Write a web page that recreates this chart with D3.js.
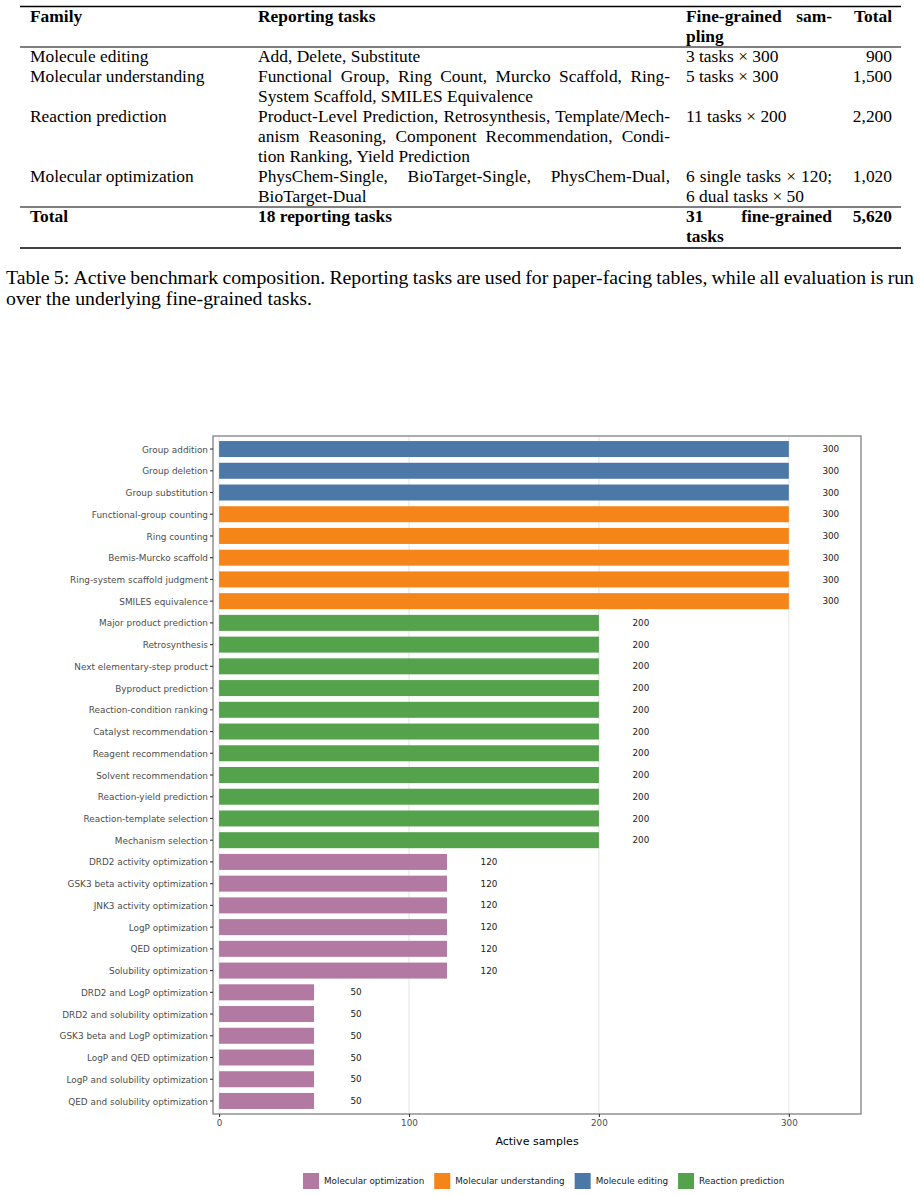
<!DOCTYPE html>
<html>
<head>
<meta charset="utf-8">
<script src="https://cdn.jsdelivr.net/npm/d3@7"></script>
<style>
  body { margin: 0; background: #fff; }
  svg { display: block; }
</style>
</head>
<body>
<svg></svg>
<script>
// ---- table data ----
const tableHeader = ["Family", "Reporting tasks", "Fine-grained sam- pling", "Total"];
const tableFamilies = ["Molecule editing", "Molecular understanding", "Reaction prediction", "Molecular optimization"];
const tableReporting = [
	["Add, Delete, Substitute"],
	["Functional Group, Ring Count, Murcko Scaffold, Ring-", "System Scaffold, SMILES Equivalence"],
	["Product-Level Prediction, Retrosynthesis, Template/Mech-", "anism Reasoning, Component Recommendation, Condi-", "tion Ranking, Yield Prediction"],
	["PhysChem-Single, BioTarget-Single, PhysChem-Dual,", "BioTarget-Dual"]
];
const tableSampling = [
	["3 tasks \u00d7 300"],
	["5 tasks \u00d7 300"],
	["11 tasks \u00d7 200"],
	["6 single tasks \u00d7 120;", "6 dual tasks \u00d7 50"]
];
const tableTotals = ["900", "1,500", "2,200", "1,020"];
const totalRow = ["Total", "18 reporting tasks", ["31 fine-grained", "tasks"], "5,620"];
const captionLines = [
	"Table 5: Active benchmark composition. Reporting tasks are used for paper-facing tables, while all evaluation is run",
	"over the underlying fine-grained tasks."
];

// ---- chart data ----
const tasks = [
	"Group addition", "Group deletion", "Group substitution",
	"Functional-group counting", "Ring counting", "Bemis-Murcko scaffold", "Ring-system scaffold judgment", "SMILES equivalence",
	"Major product prediction", "Retrosynthesis", "Next elementary-step product", "Byproduct prediction", "Reaction-condition ranking",
	"Catalyst recommendation", "Reagent recommendation", "Solvent recommendation", "Reaction-yield prediction", "Reaction-template selection", "Mechanism selection",
	"DRD2 activity optimization", "GSK3 beta activity optimization", "JNK3 activity optimization", "LogP optimization", "QED optimization", "Solubility optimization",
	"DRD2 and LogP optimization", "DRD2 and solubility optimization", "GSK3 beta and LogP optimization", "LogP and QED optimization", "LogP and solubility optimization", "QED and solubility optimization"
];
const samples = [
	300, 300, 300,
	300, 300, 300, 300, 300,
	200, 200, 200, 200, 200, 200, 200, 200, 200, 200, 200,
	120, 120, 120, 120, 120, 120,
	50, 50, 50, 50, 50, 50
];
const families = [
	"Molecule editing", "Molecule editing", "Molecule editing",
	"Molecular understanding", "Molecular understanding", "Molecular understanding", "Molecular understanding", "Molecular understanding",
	"Reaction prediction", "Reaction prediction", "Reaction prediction", "Reaction prediction", "Reaction prediction", "Reaction prediction",
	"Reaction prediction", "Reaction prediction", "Reaction prediction", "Reaction prediction", "Reaction prediction",
	"Molecular optimization", "Molecular optimization", "Molecular optimization", "Molecular optimization", "Molecular optimization", "Molecular optimization",
	"Molecular optimization", "Molecular optimization", "Molecular optimization", "Molecular optimization", "Molecular optimization", "Molecular optimization"
];
const legendNames = ["Molecular optimization", "Molecular understanding", "Molecule editing", "Reaction prediction"];
const legendColors = ["#b279a2", "#f58518", "#4c78a8", "#54a24b"];
const xTicks = [0, 100, 200, 300];

const width = 920;
const height = 1196;
const serif = "'Liberation Serif', 'Times New Roman', serif";
const sans = "'DejaVu Sans', sans-serif";
const tableSize = 17.4;
const captionSize = 19.8;

var svg = d3.select("svg").attr("width", width).attr("height", height);
svg.append("rect").attr("width", width).attr("height", height).style("fill", "white");

// place a line of words so it fills [x0,x1] (latex style justified line)
function justify(g, str, x0, x1, y, size, bold){
	var words = str.split(/\s+/);
	var t = g.append("text").attr("y", y)
	.style("font-family", serif).style("font-size", size + "px")
	.style("font-weight", bold ? "bold" : "normal").style("fill", "black");
	var spans = words.map(w => t.append("tspan").text(w));
	var widths = spans.map(s => s.node().getComputedTextLength());
	var gap = words.length > 1 ? (x1 - x0 - d3.sum(widths)) / (words.length - 1) : 0;
	gap = Math.max(gap, size * 0.2);
	var cx = x0;
	spans.forEach((s, i) => { s.attr("x", cx); cx += widths[i] + gap; });
}

function plain(g, str, x, y, size, bold, anchor){
	g.append("text").attr("x", x).attr("y", y)
	.attr("text-anchor", anchor || "start")
	.style("font-family", serif).style("font-size", size + "px")
	.style("font-weight", bold ? "bold" : "normal").style("fill", "black")
	.text(str);
}

// ---------------- table ----------------
var table = svg.append("g");
const colX = [30, 258, 686, 892];
const repEnd = 670;
const sampEnd = 832;
const pitch = 20;

table.append("line").attr("x1", 20).attr("x2", 901).attr("y1", 6.5).attr("y2", 6.5).style("stroke", "black").style("stroke-width", 1.6);
plain(table, tableHeader[0], colX[0], 22, tableSize, true);
plain(table, tableHeader[1], colX[1], 22, tableSize, true);
justify(table, "Fine-grained sam-", colX[2], sampEnd, 22, tableSize, true);
plain(table, "pling", colX[2], 42, tableSize, true);
plain(table, tableHeader[3], colX[3], 22, tableSize, true, "end");
table.append("line").attr("x1", 20).attr("x2", 901).attr("y1", 47).attr("y2", 47).style("stroke", "black").style("stroke-width", 1);

var y = 62;
tableFamilies.forEach((fam, r) => {
	plain(table, fam, colX[0], y, tableSize, false);
	tableReporting[r].forEach((ln, k) => {
		if(k < tableReporting[r].length - 1) justify(table, ln, colX[1], repEnd, y + k*pitch, tableSize, false);
		else plain(table, ln, colX[1], y + k*pitch, tableSize, false);
	});
	tableSampling[r].forEach((ln, k) => {
		if(k < tableSampling[r].length - 1) justify(table, ln, colX[2], sampEnd, y + k*pitch, tableSize, false);
		else plain(table, ln, colX[2], y + k*pitch, tableSize, false);
	});
	plain(table, tableTotals[r], colX[3], y, tableSize, false, "end");
	y += pitch * Math.max(tableReporting[r].length, tableSampling[r].length);
});

table.append("line").attr("x1", 20).attr("x2", 901).attr("y1", y - 15).attr("y2", y - 15).style("stroke", "black").style("stroke-width", 1);
plain(table, totalRow[0], colX[0], y, tableSize, true);
plain(table, totalRow[1], colX[1], y, tableSize, true);
justify(table, totalRow[2][0], colX[2], sampEnd, y, tableSize, true);
plain(table, totalRow[2][1], colX[2], y + pitch, tableSize, true);
plain(table, totalRow[3], colX[3], y, tableSize, true, "end");
table.append("line").attr("x1", 20).attr("x2", 901).attr("y1", y + pitch + 6).attr("y2", y + pitch + 6).style("stroke", "black").style("stroke-width", 1.6);

justify(svg, captionLines[0], 6, 914, 284, captionSize, false);
plain(svg, captionLines[1], 6, 305, captionSize, false);

// ---------------- bar chart ----------------
const panel = {left: 213, right: 861, top: 436, bottom: 1114};
var chart = svg.append("g");

var x = d3.scaleLinear().domain([-3.2, 338]).range([panel.left, panel.right]);
var yb = d3.scaleBand().domain(tasks).range([panel.top, panel.bottom])
	.paddingInner(0.264).paddingOuter(0.232);
var color = d3.scaleOrdinal().domain(legendNames).range(legendColors);

chart.selectAll("line.grid").data(xTicks).enter().append("line").classed("grid", true)
.attr("x1", d => x(d)).attr("x2", d => x(d))
.attr("y1", panel.top).attr("y2", panel.bottom)
.style("stroke", "#e6e6e6").style("stroke-width", 1.1);

var rows = tasks.map((t, i) => ({task: t, value: samples[i], family: families[i]}));

chart.selectAll("rect.bar").data(rows).enter().append("rect").classed("bar", true)
.attr("x", x(0)).attr("y", d => yb(d.task))
.attr("width", d => x(d.value) - x(0)).attr("height", yb.bandwidth())
.style("fill", d => color(d.family));

chart.selectAll("text.value").data(rows).enter().append("text").classed("value", true)
.attr("x", d => x(d.value) + 42).attr("y", d => yb(d.task) + yb.bandwidth()/2)
.attr("dy", "0.35em").attr("text-anchor", "middle")
.style("font-family", sans).style("font-size", "8.8px").style("fill", "#1a1a1a")
.text(d => d.value);

chart.append("rect")
.attr("x", panel.left).attr("y", panel.top)
.attr("width", panel.right - panel.left).attr("height", panel.bottom - panel.top)
.style("fill", "none").style("stroke", "#808080").style("stroke-width", 1.3);

// y axis
var yAxis = chart.append("g").attr("transform", "translate(" + panel.left + ",0)")
.call(d3.axisLeft(yb).tickSize(3).tickPadding(2));
yAxis.select(".domain").remove();
yAxis.selectAll(".tick line").style("stroke", "#333").style("stroke-width", 1.1);
yAxis.selectAll(".tick text").attr("dy", "0.4em").style("font-family", sans).style("font-size", "8.9px").style("fill", "#4d4d4d");

// x axis
var xAxis = chart.append("g").attr("transform", "translate(0," + panel.bottom + ")")
.call(d3.axisBottom(x).tickValues(xTicks).tickSize(3).tickPadding(3));
xAxis.select(".domain").remove();
xAxis.selectAll(".tick line").style("stroke", "#333").style("stroke-width", 1.1);
xAxis.selectAll(".tick text").style("font-family", sans).style("font-size", "8.8px").style("fill", "#4d4d4d");

chart.append("text").attr("x", (panel.left + panel.right)/2).attr("y", 1145)
.attr("text-anchor", "middle")
.style("font-family", sans).style("font-size", "11px").style("fill", "black")
.text("Active samples");

// legend
var legend = svg.append("g");
var lx = 303;
const legendY = 1181;
legendNames.forEach((name, i) => {
	legend.append("rect").attr("x", lx).attr("y", legendY - 8).attr("width", 16).attr("height", 16)
	.style("fill", legendColors[i]);
	var t = legend.append("text").attr("x", lx + 21).attr("y", legendY).attr("dy", "0.35em")
	.style("font-family", sans).style("font-size", "8.8px").style("fill", "#1a1a1a")
	.text(name);
	lx += 21 + t.node().getComputedTextLength() + 10;
});
</script>
</body>
</html>
